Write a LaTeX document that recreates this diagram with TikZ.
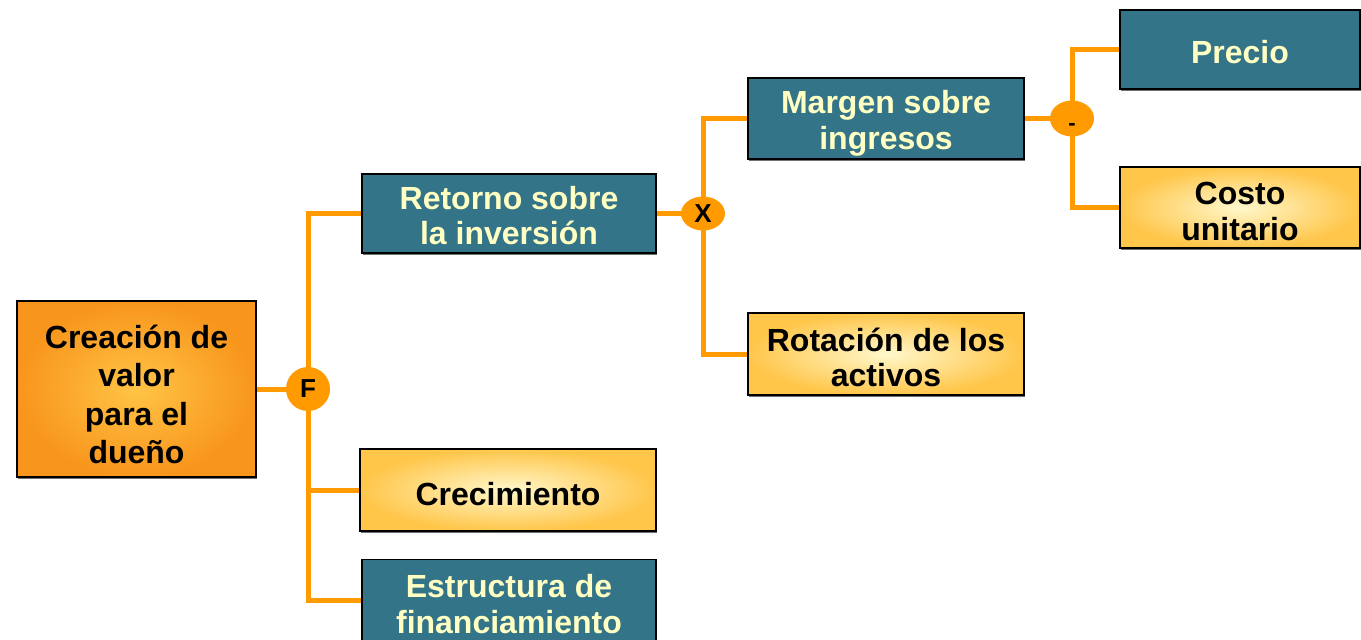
\documentclass[tikz,border=0pt]{standalone}
\usepackage{fontspec}
\setmainfont{Liberation Sans}
\usetikzlibrary{backgrounds,shadows,shapes.geometric}
\definecolor{teal}{HTML}{347488}
\definecolor{lighttxt}{HTML}{FFFFC4}
\definecolor{conn}{HTML}{FF9A00}
\definecolor{goldout}{HTML}{FFC64A}
\definecolor{goldin}{HTML}{FFF8CC}
\definecolor{orout}{HTML}{F8951C}
\definecolor{orin}{HTML}{FFC446}
\newcommand\firstup[1]{\rule{0pt}{#1}}
\tikzset{
  box/.style={draw=black, line width=1.6pt, align=center, inner sep=0pt,
    font=\fontsize{32}{35.5}\selectfont\bfseries,
    drop shadow={shadow xshift=1.2pt, shadow yshift=-1.5pt, fill=black!70, opacity=0.8}},
  tealbox/.style={box, fill=teal, text=lighttxt},
  goldbox/.style={box, inner color=goldin, outer color=goldout, text=black},
  orbox/.style={box, inner color=orin, outer color=orout, text=black,
    font=\fontsize{32}{38.5}\selectfont\bfseries},
  joint/.style={ellipse, fill=conn, inner sep=0pt, font=\fontsize{26}{26}\selectfont\bfseries},
  link/.style={draw=conn, line width=5pt}
}
\begin{document}
\begin{tikzpicture}[x=1pt,y=-1pt]
\useasboundingbox (0,0) rectangle (1361,640);
\clip (0,0) rectangle (1361,640);
\node[orbox, minimum width=239pt, minimum height=176pt] (cv) at (136.5,389) {\firstup{34.5pt}Creación de\\valor\\para el\\dueño};
\node[tealbox, minimum width=294pt, minimum height=79pt] (ret) at (509,213.5) {\firstup{27.5pt}Retorno sobre\\la inversión};
\node[goldbox, minimum width=296pt, minimum height=82pt] (cre) at (508,490) {\firstup{31pt}Crecimiento};
\node[tealbox, minimum width=294pt, minimum height=81pt] (est) at (509,600) {\firstup{31pt}Estructura de\\financiamiento};
\node[tealbox, minimum width=276pt, minimum height=81pt] (mar) at (886,118.5) {\firstup{33pt}Margen sobre\\ingresos};
\node[goldbox, minimum width=276pt, minimum height=82pt] (rot) at (886,354) {\firstup{30pt}Rotación de los\\activos};
\node[tealbox, minimum width=240pt, minimum height=79pt] (pre) at (1240,49.5) {\firstup{29pt}Precio};
\node[goldbox, minimum width=240pt, minimum height=81pt] (cos) at (1240,207.5) {\firstup{30pt}Costo\\unitario};
\node[joint, minimum width=44pt, minimum height=44pt] (F) at (308,389) {F};
\node[joint, minimum width=44pt, minimum height=34pt] (X) at (703,213.5) {X};
\node[joint, minimum width=44pt, minimum height=36pt, font=\fontsize{22}{22}\selectfont\bfseries] (M) at (1072,118.5) {\raisebox{-12pt}[0pt][0pt]{-}};
\begin{scope}[on background layer]
\draw[link] (cv.east) -- (F.center);
\draw[link] (F.center) |- (ret.west);
\draw[link] (F.center) |- (cre.west);
\draw[link] (F.center) |- (est.west);
\draw[link] (ret.east) -- (X.center);
\draw[link] (X.center) |- (mar.west);
\draw[link] (X.center) |- (rot.west);
\draw[link] (mar.east) -- (M.center);
\draw[link] (M.center) |- (pre.west);
\draw[link] (M.center) |- (cos.west);
\end{scope}
\end{tikzpicture}
\end{document}
